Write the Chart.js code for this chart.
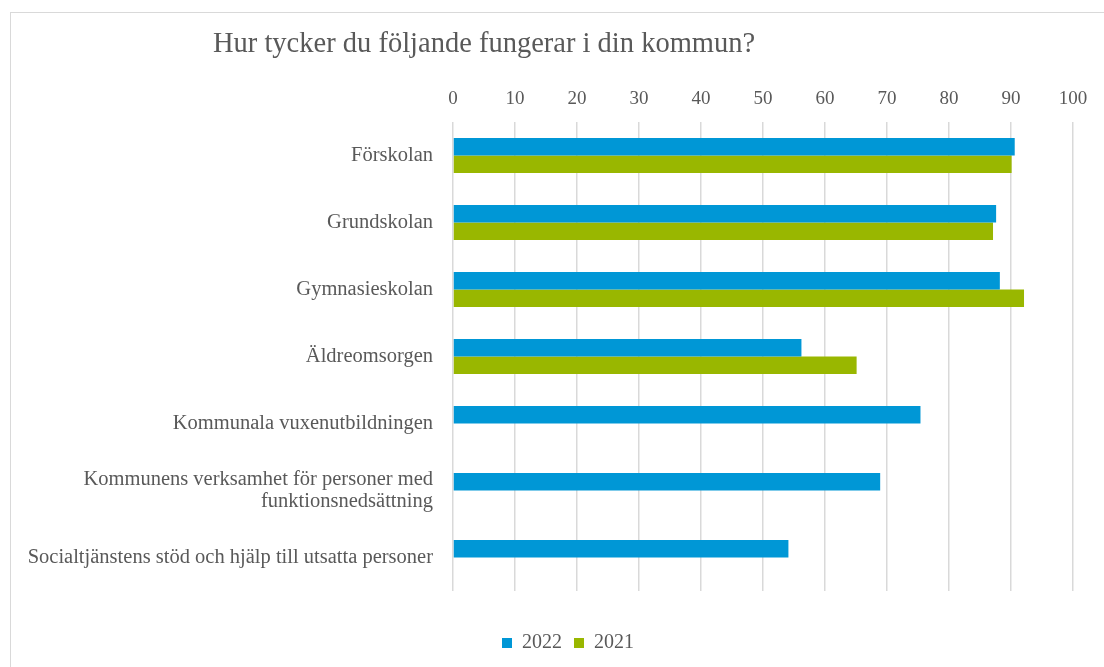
<!DOCTYPE html>
<html>
<head>
<meta charset="utf-8">
<script src="https://cdn.jsdelivr.net/npm/chart.js@4"></script>
<style>
  body { margin: 0; background: #fff; overflow: hidden; }
  #frame { position: absolute; left: 10px; top: 12px; width: 1200px; height: 700px; border: 1px solid #d9d9d9; }
  #wrap { position: absolute; left: 0; top: 0; width: 1104px; height: 667px; }
</style>
</head>
<body>
<div id="frame"></div>
<div id="wrap"><canvas id="myChart"></canvas></div>
<script>
// Reference chart: "Hur tycker du följande fungerar i din kommun?"
var titleText = 'Hur tycker du följande fungerar i din kommun?';

var categories = [
    'Förskolan',
    'Grundskolan',
    'Gymnasieskolan',
    'Äldreomsorgen',
    'Kommunala vuxenutbildningen',
    ['Kommunens verksamhet för personer med', 'funktionsnedsättning'],
    'Socialtjänstens stöd och hjälp till utsatta personer'
];

var values2022 = [90.6, 87.6, 88.2, 56.2, 75.4, 68.9, 54.1];
var values2021 = [90.1, 87.1, 92.1, 65.1, null, null, null];

var axisMin = 0;
var axisMax = 100;
var axisStep = 10;

var textColor = '#595959';
var serif = 'Garamond, "Liberation Serif", serif';

var titlePlugin = {
    id: 'leftTitle',
    afterLayout: function (chart) {
        // legend in the reference sits a bit right of the canvas centre
        chart.legend.left += 43;
    },
    afterDraw: function (chart) {
        var c = chart.ctx;
        c.save();
        c.font = '28.5px ' + serif;
        c.fillStyle = textColor;
        c.textAlign = 'left';
        c.textBaseline = 'middle';
        c.fillText(titleText, 213, 45);
        c.restore();
    }
};

var data = {
    labels: categories,
    datasets: [
        {
            label: '2022',
            data: values2022,
            backgroundColor: '#0097D6',
            categoryPercentage: 0.52,
            barPercentage: 1.0
        },
        {
            label: '2021',
            data: values2021,
            backgroundColor: '#99B700',
            categoryPercentage: 0.52,
            barPercentage: 1.0
        }
    ]
};

var ctx = document.getElementById('myChart');
var myBarChart = new Chart(ctx, {
    type: 'bar',
    data: data,
    plugins: [titlePlugin],
    options: {
        indexAxis: 'y',
        responsive: true,
        maintainAspectRatio: false,
        animation: false,
        layout: { padding: { left: 20, right: 31, top: 70, bottom: 4 } },
        plugins: {
            title: { display: false },
            tooltip: { enabled: false },
            legend: {
                position: 'bottom',
                title: {
                    display: true,
                    text: ' ',
                    font: { size: 10 },
                    padding: { top: 0, bottom: 18 }
                },
                labels: {
                    boxWidth: 10,
                    boxHeight: 10,
                    padding: 12,
                    color: textColor,
                    font: { family: serif, size: 20 }
                }
            }
        },
        scales: {
            x: {
                position: 'top',
                min: axisMin,
                max: axisMax,
                ticks: {
                    stepSize: axisStep,
                    color: textColor,
                    padding: 12,
                    font: { family: serif, size: 19 }
                },
                grid: { color: '#d9d9d9', lineWidth: 1.5, drawTicks: false },
                border: { display: false },
                afterFit: function (scale) { scale.height = 52; }
            },
            y: {
                ticks: {
                    color: textColor,
                    padding: 20,
                    font: { family: serif, size: 20.5, lineHeight: 1.1 }
                },
                grid: { display: false, drawTicks: false },
                border: { display: false },
                afterFit: function (scale) { scale.width = 433; }
            }
        }
    }
});
</script>
</body>
</html>
